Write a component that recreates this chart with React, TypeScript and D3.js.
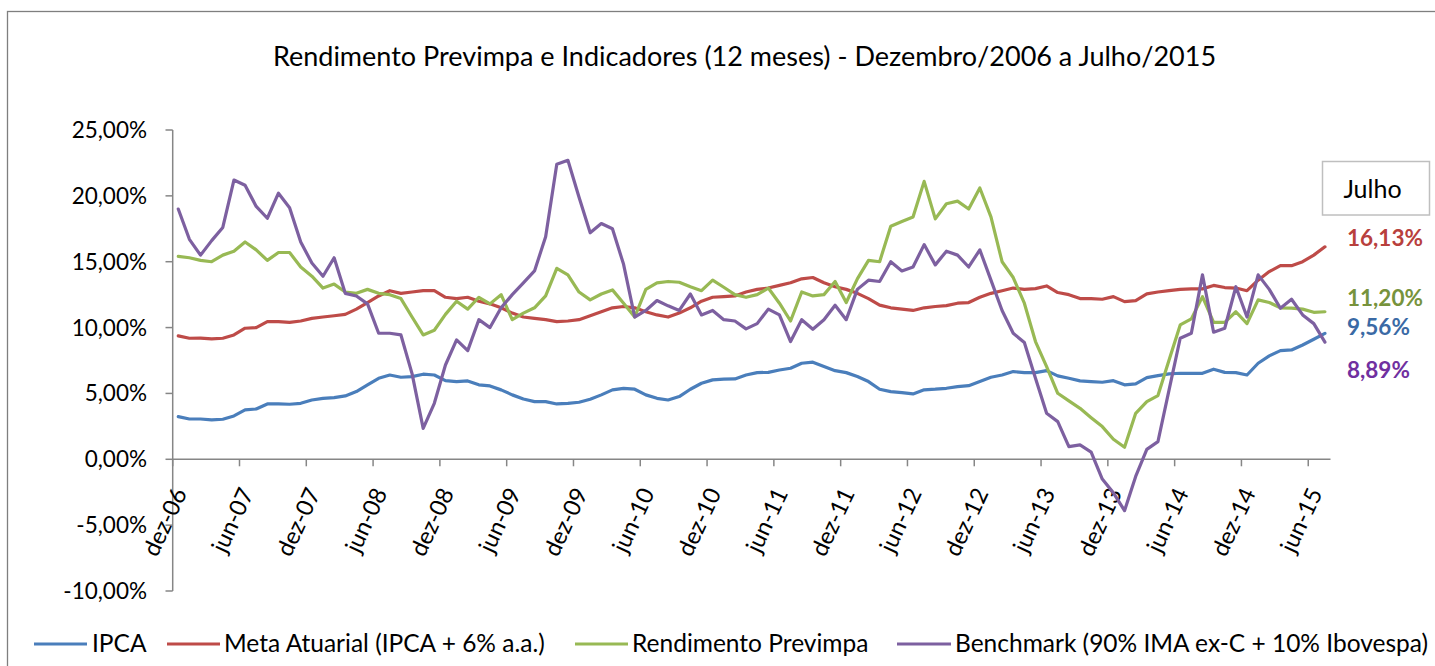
import React from 'react';
import * as d3 from 'd3';

// months in Portuguese, used to build the category axis (dez-06 .. jul-15)
const monthNames = ['jan', 'fev', 'mar', 'abr', 'mai', 'jun', 'jul', 'ago', 'set', 'out', 'nov', 'dez'];

const categories: string[] = [];
for (let k = 0; k < 104; k++) {
  const m = (11 + k) % 12;
  const yr = 6 + Math.floor((11 + k) / 12);
  categories.push(`${monthNames[m]}-${String(yr).padStart(2, '0')}`);
}

const yTicks = [25, 20, 15, 10, 5, 0, -5, -10];

const ipca = [
  3.24, 3.06, 3.06, 2.99, 3.04, 3.29, 3.75, 3.82, 4.2, 4.2, 4.18, 4.25,
  4.5, 4.63, 4.68, 4.81, 5.14, 5.65, 6.15, 6.4, 6.23, 6.28, 6.46, 6.4,
  5.97, 5.9, 5.95, 5.65, 5.57, 5.27, 4.89, 4.58, 4.38, 4.38, 4.2, 4.25,
  4.33, 4.56, 4.89, 5.27, 5.39, 5.32, 4.89, 4.63, 4.5, 4.76, 5.32, 5.77,
  6.03, 6.08, 6.1, 6.4, 6.58, 6.6, 6.78, 6.91, 7.29, 7.37, 7.04, 6.73,
  6.58, 6.28, 5.9, 5.32, 5.14, 5.06, 4.96, 5.27, 5.32, 5.39, 5.52, 5.59,
  5.9, 6.23, 6.4, 6.66, 6.58, 6.58, 6.73, 6.33, 6.15, 5.95, 5.9, 5.85,
  5.97, 5.65, 5.72, 6.2, 6.35, 6.48, 6.53, 6.53, 6.53, 6.84, 6.6, 6.58,
  6.4, 7.29, 7.85, 8.25, 8.3, 8.68, 9.11, 9.56,
];

const metaAtuarial = [
  9.37, 9.19, 9.2, 9.14, 9.19, 9.44, 9.95, 10.0, 10.45, 10.45, 10.4, 10.5,
  10.7, 10.8, 10.9, 11.0, 11.4, 11.9, 12.4, 12.8, 12.6, 12.7, 12.8, 12.8,
  12.3, 12.2, 12.3, 12.0, 11.8, 11.5, 11.1, 10.8, 10.7, 10.6, 10.45, 10.5,
  10.6, 10.9, 11.2, 11.5, 11.6, 11.5, 11.2, 10.96, 10.8, 11.1, 11.5, 12.0,
  12.3, 12.35, 12.4, 12.7, 12.9, 13.0, 13.2, 13.4, 13.7, 13.8, 13.4, 13.1,
  12.9, 12.6, 12.2, 11.7, 11.5, 11.4, 11.3, 11.5, 11.6, 11.67, 11.85, 11.9,
  12.3, 12.6, 12.8, 13.0, 12.9, 12.96, 13.16, 12.66, 12.5, 12.2, 12.2, 12.15,
  12.35, 11.97, 12.05, 12.56, 12.7, 12.8, 12.9, 12.94, 12.94, 13.2, 13.04, 13.0,
  12.8, 13.6, 14.25, 14.7, 14.7, 15.0, 15.5, 16.13,
];

const rendimento = [
  15.4, 15.3, 15.1, 15.0, 15.5, 15.8, 16.5, 15.9, 15.1, 15.7, 15.7, 14.6,
  13.9, 13.0, 13.3, 12.7, 12.6, 12.9, 12.6, 12.5, 12.2, 10.8, 9.44, 9.8,
  11.0, 12.0, 11.4, 12.3, 11.8, 12.5, 10.6, 11.1, 11.5, 12.4, 14.5, 14.0,
  12.7, 12.1, 12.55, 12.86, 11.85, 10.8, 12.9, 13.4, 13.5, 13.44, 13.1, 12.8,
  13.6, 13.06, 12.5, 12.3, 12.5, 13.0, 11.85, 10.5, 12.7, 12.4, 12.5, 13.5,
  11.9, 13.7, 15.1, 15.0, 17.7, 18.05, 18.4, 21.1, 18.25, 19.4, 19.6, 19.0,
  20.6, 18.4, 15.0, 13.8, 11.85, 8.94, 7.04, 5.01, 4.43, 3.87, 3.16, 2.48,
  1.52, 0.91, 3.49, 4.38, 4.84, 7.54, 10.2, 10.66, 12.35, 10.4, 10.4, 11.2,
  10.3, 12.1, 11.9, 11.5, 11.47, 11.4, 11.16, 11.2,
];

const benchmark = [
  19.0, 16.7, 15.5, 16.6, 17.6, 21.2, 20.8, 19.2, 18.3, 20.2, 19.1, 16.5,
  14.9, 13.9, 15.3, 12.6, 12.4, 11.8, 9.57, 9.57, 9.44, 6.5, 2.35, 4.25,
  7.16, 9.06, 8.25, 10.6, 10.0, 11.5, 12.5, 13.4, 14.3, 16.9, 22.4, 22.7,
  19.9, 17.2, 17.9, 17.5, 14.8, 10.8, 11.3, 12.05, 11.65, 11.3, 12.55, 10.96,
  11.3, 10.6, 10.5, 9.9, 10.3, 11.4, 10.96, 8.94, 10.6, 9.87, 10.6, 11.7,
  10.6, 12.9, 13.6, 13.5, 15.0, 14.3, 14.6, 16.3, 14.76, 15.8, 15.5, 14.6,
  15.9, 13.6, 11.3, 9.57, 8.86, 6.15, 3.49, 2.86, 0.96, 1.09, 0.55, -1.5,
  -2.55, -3.9, -1.3, 0.75, 1.34, 5.27, 9.19, 9.57, 14.0, 9.65, 9.95, 13.1,
  10.8, 14.0, 12.9, 11.47, 12.15, 10.96, 10.3, 8.89,
];

const series = [
  { name: 'IPCA', values: ipca, color: '#4A7EBB', label: '9,56%', labelColor: '#3A6AA5' },
  { name: 'Meta Atuarial (IPCA + 6% a.a.)', values: metaAtuarial, color: '#BE4B48', label: '16,13%', labelColor: '#B8403D' },
  { name: 'Rendimento Previmpa', values: rendimento, color: '#98B954', label: '11,20%', labelColor: '#77933C' },
  { name: 'Benchmark (90% IMA ex-C + 10% Ibovespa)', values: benchmark, color: '#7D60A0', label: '8,89%', labelColor: '#7030A0' },
];

const FONT = "Lato, 'Open Sans', sans-serif";
const AXIS = '#868686';

const fmt = (v: number) => v.toFixed(2).replace('.', ',') + '%';

export default function App() {
  const width = 1435;
  const height = 666;

  const x = d3.scaleBand<string>().domain(categories).range([172.7, 1330.5]);
  const y = d3.scaleLinear().domain([-10, 25]).range([591, 130]);
  const cx = (c: string) => (x(c) as number) + x.bandwidth() / 2;

  const line = d3
    .line<number>()
    .x((_, i) => cx(categories[i]))
    .y(d => y(d));

  const tickCats = categories.filter((_, i) => i % 6 === 0);

  // right hand "Julho" value labels (baselines)
  const labelY: Record<string, number> = {
    '16,13%': 246,
    '11,20%': 306,
    '9,56%': 335,
    '8,89%': 378,
  };

  const legend = [
    { x0: 34, x1: 87, tx: 92 },
    { x0: 167, x1: 220, tx: 224 },
    { x0: 575, x1: 628, tx: 632 },
    { x0: 897, x1: 951, tx: 955 },
  ];

  return (
    <div style={{ position: 'fixed', left: 0, top: 0 }}>
      <svg width={width} height={height} style={{ display: 'block', background: '#fff' }}>
        <rect x={7.5} y={11.5} width={1440} height={700} fill="#fff" stroke="#7f7f7f" strokeWidth={1.3} />

        <text x={744.5} y={66} textAnchor="middle" fontFamily={FONT} fontSize={27} fill="#000">
          Rendimento Previmpa e Indicadores (12 meses) - Dezembro/2006 a Julho/2015
        </text>

        {/* y axis */}
        <line x1={172.7} x2={172.7} y1={y(25)} y2={y(-10)} stroke={AXIS} strokeWidth={1.5} />
        {yTicks.map(t => (
          <g key={t}>
            <line x1={165.5} x2={172.7} y1={y(t)} y2={y(t)} stroke={AXIS} strokeWidth={1.5} />
            <text x={147} y={y(t) + 8} textAnchor="end" fontFamily={FONT} fontSize={22.5} fill="#000">
              {fmt(t)}
            </text>
          </g>
        ))}

        {/* x axis at 0 */}
        <line x1={172.7} x2={1330.5} y1={y(0)} y2={y(0)} stroke={AXIS} strokeWidth={1.5} />
        {tickCats.map(c => (
          <g key={c}>
            <line x1={x(c)} x2={x(c)} y1={y(0)} y2={y(0) + 7} stroke={AXIS} strokeWidth={1.5} />
            <text
              transform={`translate(${cx(c) + 1},${489}) rotate(-65)`}
              textAnchor="end"
              dominantBaseline="central"
              fontFamily={FONT}
              fontSize={23.5}
              fill="#000"
            >
              {c}
            </text>
          </g>
        ))}

        {/* series */}
        {series.map(s => (
          <path
            key={s.name}
            d={line(s.values) as string}
            fill="none"
            stroke={s.color}
            strokeWidth={3.2}
            strokeLinejoin="round"
            strokeLinecap="round"
          />
        ))}

        {/* Julho box */}
        <rect x={1322.5} y={161.5} width={107} height={53.5} fill="#fff" stroke="#bfbfbf" strokeWidth={1.5} />
        <text x={1372.5} y={198} textAnchor="middle" fontFamily={FONT} fontSize={25} fill="#000">
          Julho
        </text>
        {series.map(s => (
          <text
            key={s.label}
            x={1347}
            y={labelY[s.label]}
            fontFamily={FONT}
            fontWeight="bold"
            fontSize={22.5}
            fill={s.labelColor}
          >
            {s.label}
          </text>
        ))}

        {/* legend */}
        {series.map((s, i) => (
          <g key={s.name}>
            <line x1={legend[i].x0} x2={legend[i].x1} y1={644} y2={644} stroke={s.color} strokeWidth={3.2} />
            <text x={legend[i].tx} y={652} fontFamily={FONT} fontSize={24.5} fill="#000">
              {s.name}
            </text>
          </g>
        ))}
      </svg>
    </div>
  );
}
